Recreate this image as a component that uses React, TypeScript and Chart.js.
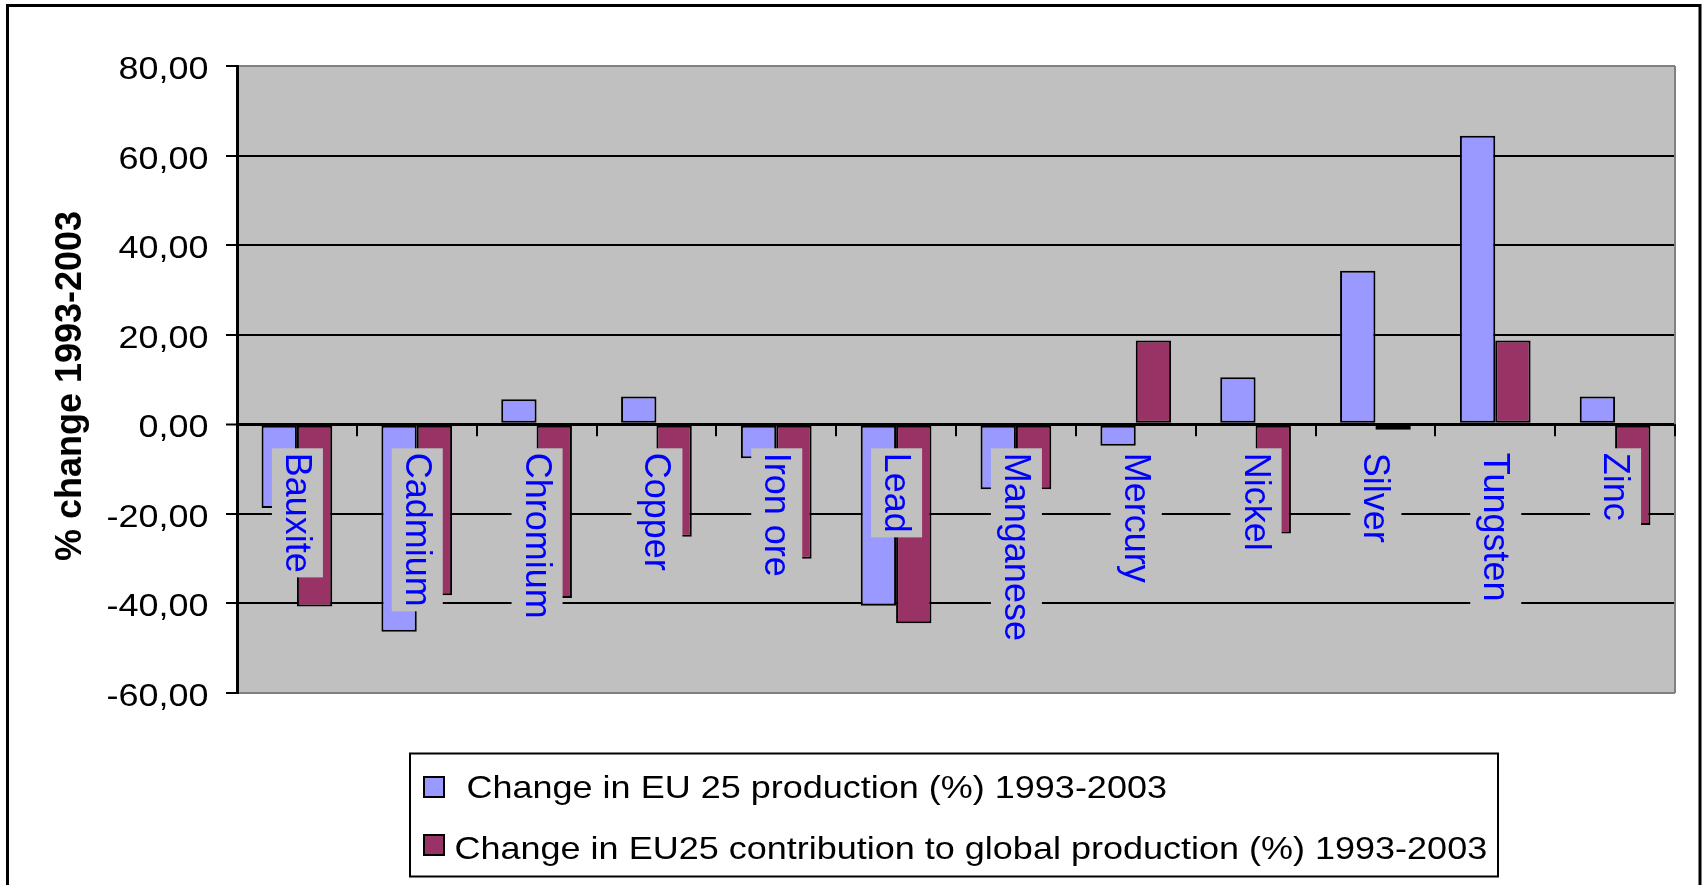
import React, { useEffect, useRef } from 'react';
import { Chart, registerables } from 'chart.js';

Chart.register(...registerables);

const categories = ['Bauxite', 'Cadmium', 'Chromium', 'Copper', 'Iron ore', 'Lead', 'Manganese', 'Mercury', 'Nickel', 'Silver', 'Tungsten', 'Zinc'];
const productionChange = [-18.7, -46.3, 5.6, 6.2, -7.6, -40.5, -14.5, -4.8, 10.5, 34.3, 64.4, 6.2];
const contributionChange = [-40.7, -38.2, -38.8, -25.1, -30.0, -44.4, -14.5, 18.7, -24.4, -1.2, 18.7, -22.5];
const seriesNames = ['Change in EU 25 production (%) 1993-2003', 'Change in EU25 contribution to global production (%) 1993-2003'];
const seriesColors = ['#9999FF', '#993366'];
const yTickValues = [-60, -40, -20, 0, 20, 40, 60, 80];
const yTickLabels = ['-60,00', '-40,00', '-20,00', '0,00', '20,00', '40,00', '60,00', '80,00'];
const yAxisTitle = '% change 1993-2003';

const FONT = "'Liberation Sans', Arial, sans-serif";
const HSTRETCH = 1.125;

function stretchedText(ctx: CanvasRenderingContext2D, text: string, x: number, y: number, align: CanvasTextAlign) {
  ctx.save();
  ctx.translate(x, y);
  ctx.scale(HSTRETCH, 1);
  ctx.textAlign = align;
  ctx.textBaseline = 'alphabetic';
  ctx.fillText(text, 0, 0);
  ctx.restore();
}

const excelLook = {
  id: 'excelLook',
  beforeDraw(chart: any) {
    const { ctx, chartArea } = chart;
    ctx.save();
    ctx.fillStyle = '#ffffff';
    ctx.fillRect(0, 0, chart.width, chart.height);
    ctx.fillStyle = '#C0C0C0';
    ctx.fillRect(chartArea.left, chartArea.top, chartArea.right - chartArea.left, chartArea.bottom - chartArea.top);
    ctx.restore();
  },
  afterDatasetsDraw(chart: any) {
    const { ctx, chartArea, scales } = chart;
    const xs = scales.x;
    const ys = scales.y;
    const zero = ys.getPixelForValue(0);
    const n = categories.length;
    const catW = (chartArea.right - chartArea.left) / n;
    ctx.save();
    // right plot border
    ctx.strokeStyle = '#808080';
    ctx.lineWidth = 2;
    ctx.beginPath();
    ctx.moveTo(chartArea.right, chartArea.top);
    ctx.lineTo(chartArea.right, chartArea.bottom);
    ctx.stroke();
    // category tick marks on zero line
    ctx.strokeStyle = '#000';
    ctx.lineWidth = 2;
    for (let i = 1; i <= n; i++) {
      const x = Math.round(chartArea.left + i * catW);
      ctx.beginPath();
      ctx.moveTo(x, zero);
      ctx.lineTo(x, zero + 12);
      ctx.stroke();
    }
    // category labels with backdrop
    ctx.font = `36px ${FONT}`;
    for (let i = 0; i < n; i++) {
      const cx = xs.getPixelForValue(i);
      const label = categories[i];
      const w = ctx.measureText(label).width;
      ctx.fillStyle = '#C0C0C0';
      ctx.fillRect(cx - 25, zero + 24, 51, w + 9);
      ctx.save();
      ctx.translate(cx - 1, zero + 28.5);
      ctx.rotate(Math.PI / 2);
      ctx.textAlign = 'left';
      ctx.textBaseline = 'middle';
      ctx.fillStyle = '#0000FF';
      ctx.fillText(label, 0, 0);
      ctx.restore();
    }
    ctx.restore();
  },
  afterDraw(chart: any) {
    const { ctx, scales } = chart;
    const ys = scales.y;
    ctx.save();
    // y tick labels
    ctx.fillStyle = '#000';
    ctx.font = `32px ${FONT}`;
    yTickValues.forEach((v, i) => {
      const y = ys.getPixelForValue(v);
      stretchedText(ctx, yTickLabels[i], 208.6, y + 13, 'right');
    });
    // y axis title
    ctx.save();
    ctx.font = `bold 36px ${FONT}`;
    ctx.translate(81, 386);
    ctx.rotate(-Math.PI / 2);
    ctx.textAlign = 'center';
    ctx.textBaseline = 'alphabetic';
    ctx.fillText(yAxisTitle, 0, 0);
    ctx.restore();
    // legend
    ctx.strokeStyle = '#000';
    ctx.lineWidth = 2;
    ctx.strokeRect(410, 753.5, 1088, 123);
    const rows = [
      { sq: 777, base: 798, tx: 466.5 },
      { sq: 835, base: 859, tx: 454.5 },
    ];
    rows.forEach((r, i) => {
      ctx.fillStyle = seriesColors[i];
      ctx.fillRect(424, r.sq, 20, 20);
      ctx.strokeStyle = '#000';
      ctx.lineWidth = 2;
      ctx.strokeRect(424, r.sq, 20, 20);
      ctx.fillStyle = '#000';
      ctx.font = `32px ${FONT}`;
      stretchedText(ctx, seriesNames[i], r.tx, r.base, 'left');
    });
    // outer chart border
    ctx.strokeStyle = '#000';
    ctx.lineWidth = 3;
    ctx.strokeRect(7.5, 5.5, 1692.5, 900);
    ctx.restore();
  },
};

export default function App() {
  const ref = useRef<HTMLCanvasElement>(null);
  useEffect(() => {
    const chart = new Chart(ref.current as HTMLCanvasElement, {
      type: 'bar',
      data: {
        labels: categories,
        datasets: [
          {
            label: seriesNames[0],
            data: productionChange,
            backgroundColor: seriesColors[0],
            borderColor: '#000',
            borderWidth: 2,
            borderSkipped: false,
            categoryPercentage: 0.59,
            barPercentage: 1,
          },
          {
            label: seriesNames[1],
            data: contributionChange,
            backgroundColor: seriesColors[1],
            borderColor: '#000',
            borderWidth: 2,
            borderSkipped: false,
            categoryPercentage: 0.59,
            barPercentage: 1,
          },
        ],
      },
      options: {
        responsive: true,
        maintainAspectRatio: false,
        animation: false,
        layout: { padding: { left: 0, right: 28, top: 66, bottom: 192 } },
        plugins: {
          legend: { display: false },
          tooltip: { enabled: false },
          title: { display: false },
        },
        scales: {
          x: { display: false, offset: true },
          y: {
            min: -60,
            max: 80,
            ticks: { display: false, stepSize: 20 },
            afterFit: (s: any) => { s.width = 237; },
            grid: {
              color: (c: any) => (c.tick && (c.tick.value === 80 || c.tick.value === -60) ? '#808080' : '#000'),
              lineWidth: (c: any) => (c.tick && c.tick.value === 0 ? 3 : 2),
              tickLength: 11,
              tickColor: '#000',
              tickWidth: 2,
              drawTicks: true,
            },
            border: { display: true, color: '#000', width: 3 },
          },
        },
      } as any,
      plugins: [excelLook],
    });
    return () => chart.destroy();
  }, []);
  return (
    <div style={{ position: 'fixed', left: 0, top: 0, width: 1703, height: 885, background: '#fff' }}>
      <canvas ref={ref} />
    </div>
  );
}
